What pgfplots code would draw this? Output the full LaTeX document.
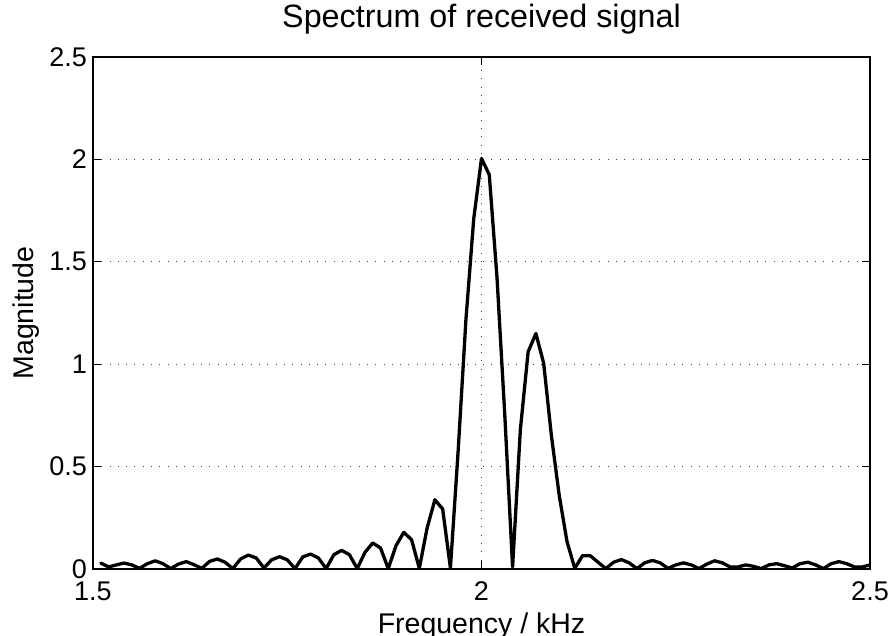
\documentclass[border=0pt]{standalone}
\usepackage{fontspec}
\setmainfont{Liberation Sans}
\usepackage{pgfplots}
\pgfplotsset{compat=1.18}
\begin{document}
\begin{tikzpicture}
\useasboundingbox (-93pt,-67pt) rectangle (800pt,569pt);
\begin{axis}[
  scale only axis, width=777pt, height=512pt,
  xmin=1.5, xmax=2.5, ymin=0, ymax=2.5,
  xtick={1.5,2,2.5}, ytick={0,0.5,1,1.5,2,2.5},
  /pgf/number format/assume math mode=true,
  tick label style={font=\fontsize{27}{27}\selectfont},
  xticklabel style={anchor=base, inner sep=0pt, yshift=-32pt},
  yticklabel style={anchor=east, inner sep=0pt, xshift=-6pt},
  major tick length=8pt,
  tick style={line width=1pt, black},
  axis line style={line width=1.2pt, black},
  grid=major,
  major grid style={line width=0.9pt, black!75, dash pattern=on 1pt off 7.3pt},
  title={Spectrum of received signal},
  title style={at={(axis description cs:0.5,1.0463)}, anchor=base, inner sep=0pt, font=\fontsize{32.3}{32.3}\selectfont},
  xlabel={Frequency / kHz},
  xlabel style={at={(axis description cs:0.5,-0.1264)}, anchor=base, inner sep=0pt, font=\fontsize{28.5}{28.5}\selectfont},
  ylabel={Magnitude},
  ylabel style={at={(axis description cs:-0.0772,0.5)}, anchor=base, rotate=0, inner sep=0pt, font=\fontsize{28.5}{28.5}\selectfont},
]
\addplot[black, line width=3.3pt, line join=round, line cap=round] coordinates {
(1.51,0.029) (1.52,0.010) (1.53,0.020) (1.54,0.029) (1.55,0.020)
(1.56,0.003) (1.57,0.026) (1.58,0.040) (1.59,0.026)
(1.60,0.002) (1.61,0.024) (1.62,0.036) (1.63,0.021)
(1.64,0.003) (1.65,0.037) (1.66,0.049) (1.67,0.033)
(1.68,0.002) (1.69,0.049) (1.70,0.068) (1.71,0.054)
(1.72,0.005) (1.73,0.045) (1.74,0.060) (1.75,0.045)
(1.76,0.002) (1.77,0.059) (1.78,0.073) (1.79,0.054)
(1.80,0.002) (1.81,0.070) (1.82,0.091) (1.83,0.070)
(1.84,0.002) (1.85,0.081) (1.86,0.127) (1.87,0.103)
(1.88,0.002) (1.89,0.114) (1.90,0.179) (1.91,0.143)
(1.92,0.003) (1.93,0.200) (1.94,0.338) (1.95,0.293)
(1.96,0.005) (1.97,0.58) (1.98,1.22) (1.99,1.71)
(2.00,2.005) (2.01,1.925) (2.02,1.42) (2.03,0.75)
(2.04,0.010) (2.05,0.68) (2.06,1.06) (2.07,1.15)
(2.08,1.005) (2.09,0.65) (2.10,0.36) (2.11,0.135)
(2.12,0.003) (2.13,0.065) (2.14,0.065) (2.15,0.033)
(2.16,0.002) (2.17,0.033) (2.18,0.046) (2.19,0.030)
(2.20,0.002) (2.21,0.030) (2.22,0.042) (2.23,0.030)
(2.24,0.003) (2.25,0.020) (2.26,0.030) (2.27,0.020)
(2.28,0.002) (2.29,0.024) (2.30,0.040) (2.31,0.030)
(2.32,0.010) (2.33,0.010) (2.34,0.020) (2.35,0.013)
(2.36,0.002) (2.37,0.020) (2.38,0.026) (2.39,0.016)
(2.40,0.005) (2.41,0.026) (2.42,0.033) (2.43,0.020)
(2.44,0.002) (2.45,0.026) (2.46,0.036) (2.47,0.026)
(2.48,0.010) (2.49,0.010) (2.50,0.020)
};
\end{axis}
\end{tikzpicture}
\end{document}
